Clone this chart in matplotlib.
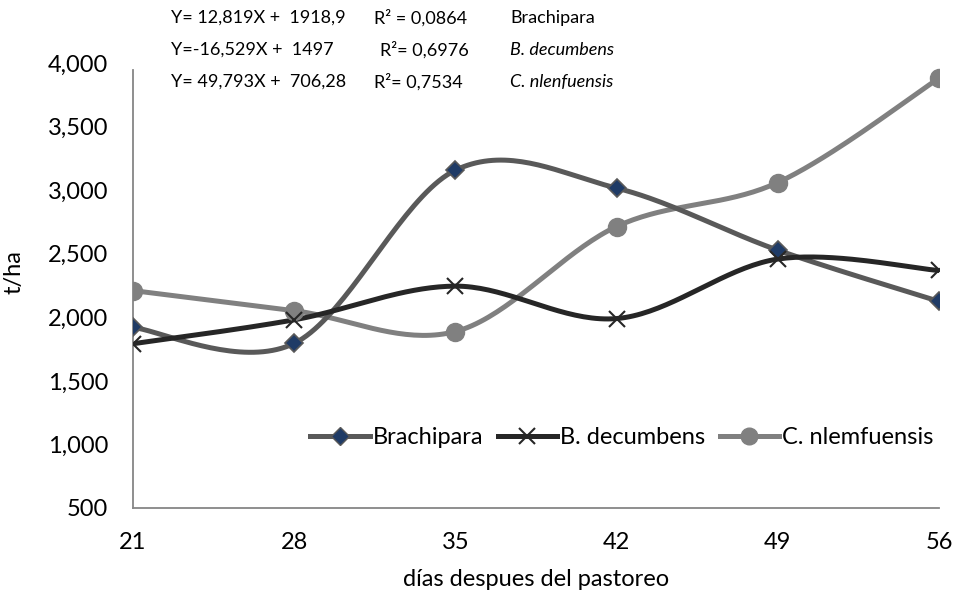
import numpy as np
import matplotlib.pyplot as plt
from matplotlib.ticker import FuncFormatter
from matplotlib.lines import Line2D

# Data
dias = [21, 28, 35, 42, 49, 56]
brachipara = [1920, 1795, 3157, 3016, 2528, 2125]
decumbens = [1792, 1980, 2245, 1990, 2458, 2368]
nlemfuensis = [2210, 2052, 1888, 2714, 3060, 3880]

ecuaciones = ["Y= 12,819X +  1918,9", "Y=-16,529X +  1497", "Y= 49,793X +  706,28"]
r2 = ["R² = 0,0864", "R²= 0,6976", "R²= 0,7534"]
nombres = ["Brachipara", "B. decumbens", "C. nlenfuensis"]

plt.rcParams['font.family'] = ['Lato', 'DejaVu Sans']


def smooth(x, y, n=40):
    # Catmull-Rom style bezier, like Excel's "smoothed line"
    x = np.asarray(x, float)
    y = np.asarray(y, float)
    px, py = [], []
    for i in range(len(x) - 1):
        i0 = max(i - 1, 0)
        i3 = min(i + 2, len(x) - 1)
        c1x = x[i] + (x[i + 1] - x[i0]) / 6
        c1y = y[i] + (y[i + 1] - y[i0]) / 6
        c2x = x[i + 1] - (x[i3] - x[i]) / 6
        c2y = y[i + 1] - (y[i3] - y[i]) / 6
        t = np.linspace(0, 1, n)
        px.extend((1 - t) ** 3 * x[i] + 3 * (1 - t) ** 2 * t * c1x + 3 * (1 - t) * t ** 2 * c2x + t ** 3 * x[i + 1])
        py.extend((1 - t) ** 3 * y[i] + 3 * (1 - t) ** 2 * t * c1y + 3 * (1 - t) * t ** 2 * c2y + t ** 3 * y[i + 1])
    return px, py


fig = plt.figure(figsize=(9.56, 5.95), dpi=100)
ax = fig.add_axes([133 / 956, 1 - 508 / 595, (939 - 133) / 956, (508 - 63) / 595])

c_bra, c_dec, c_nle = '#595959', '#262626', '#808080'
fs = 17

sx, sy = smooth(dias, nlemfuensis)
ax.plot(sx, sy, color=c_nle, lw=3.6, solid_capstyle='round', zorder=2)
ax.plot(dias, nlemfuensis, 'o', color=c_nle, ms=13, zorder=3)

sx, sy = smooth(dias, brachipara)
ax.plot(sx, sy, color=c_bra, lw=3.6, solid_capstyle='round', zorder=2)
ax.plot(dias, brachipara, 'D', color='#1f3b66', mec=c_bra, mew=1.2, ms=9, zorder=3)

sx, sy = smooth(dias, decumbens)
ax.plot(sx, sy, color=c_dec, lw=3.6, solid_capstyle='round', zorder=2)
ax.plot(dias, decumbens, 'x', color=c_dec, ms=12, mew=1.5, zorder=3)

ax.set_xlim(21, 56)
ax.set_ylim(500, 4000)
ax.set_xticks(dias)
ax.set_yticks(np.arange(500, 4001, 500))
ax.yaxis.set_major_formatter(FuncFormatter(lambda v, p: f"{int(v):,}"))
ax.tick_params(length=0, labelsize=fs, colors='black')
ax.tick_params(axis='x', pad=17)
ax.tick_params(axis='y', pad=18)
for s in ['top', 'right']:
    ax.spines[s].set_visible(False)
for s in ['left', 'bottom']:
    ax.spines[s].set_color('#868686')
    ax.spines[s].set_linewidth(1.3)
ax.spines['left'].set_bounds(500, 3945)

ax.set_xlabel('días despues del pastoreo', fontsize=fs, labelpad=12)
ax.set_ylabel('t/ha', fontsize=fs, labelpad=8)
ax.yaxis.set_label_coords(-0.135, 0.53)

handles = [
    Line2D([], [], color=c_bra, lw=3.6, marker='D', mfc='#1f3b66', mec=c_bra, ms=9),
    Line2D([], [], color=c_dec, lw=3.6, marker='x', ms=12, mew=1.5),
    Line2D([], [], color=c_nle, lw=3.6, marker='o', ms=12),
]
ax.legend(handles, ['Brachipara', 'B. decumbens', 'C. nlemfuensis'], loc='center',
          bbox_to_anchor=((622 - 133) / 806, (508 - 438) / 445), ncol=3, frameon=False,
          fontsize=fs, handlelength=2.5, handletextpad=0.15, columnspacing=0.6,
          borderpad=0, borderaxespad=0)

ys = [18, 50, 82]
r2x = [374, 380, 374]
for i in range(3):
    yf = 1 - ys[i] / 595
    fig.text(171 / 956, yf, ecuaciones[i], fontsize=13, va='center')
    fig.text(r2x[i] / 956, yf, r2[i], fontsize=13, va='center')
    fig.text(510 / 956, yf, nombres[i], fontsize=13, va='center',
             style='normal' if i == 0 else 'italic')

fig.savefig('out.png', dpi=100)
